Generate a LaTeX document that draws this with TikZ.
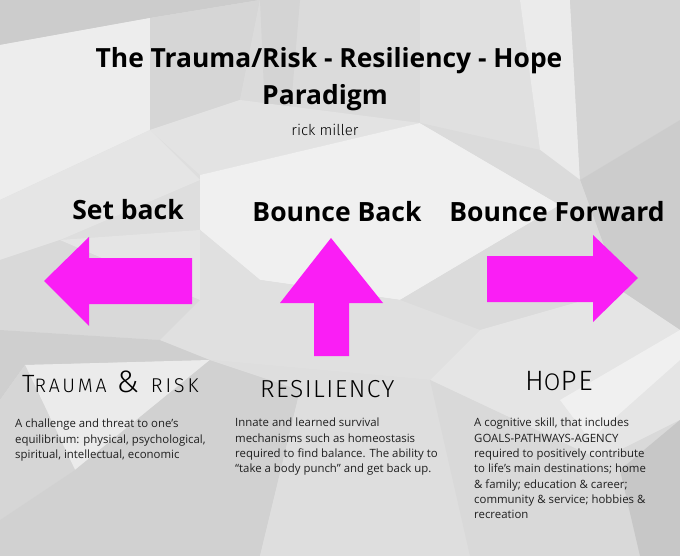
\documentclass[tikz,border=0pt]{standalone}
\usepackage{fontspec}
\setmainfont{Open Sans}
\newfontfamily\hand{Fira Sans Light}
\definecolor{mag}{RGB}{250,30,245}
\tikzset{
  bgp/.style={fill=black!#1, draw=none},
  arrowshape/.style={fill=mag, draw=none},
  ttl/.style={font=\fontsize{26.4}{30}\selectfont\bfseries, inner sep=0, anchor=base},
  head/.style={font=\fontsize{26.5}{32}\selectfont\bfseries, inner sep=0, anchor=base},
  cat/.style={font=\hand, inner sep=0, anchor=base west},
  body/.style={font=\fontsize{11.4}{15.3}\selectfont, inner sep=0, anchor=north west, align=left, text=black!88}
}
\begin{document}
\begin{tikzpicture}[x=1pt,y=-1pt]
\useasboundingbox (0,0) rectangle (680,556);
% background low-poly
\fill[bgp=13] (0,0) rectangle (680,556);
\fill[bgp=20] (0,0) -- (260,0) -- (150,18) -- (0,45) -- cycle;
\fill[bgp=7] (0,45) -- (150,18) -- (150,130) -- (0,200) -- cycle;
\fill[bgp=10] (0,200) -- (150,130) -- (200,180) -- (60,240) -- (0,260) -- cycle;
\fill[bgp=16] (150,18) -- (260,0) -- (240,100) -- (150,130) -- cycle;
\fill[bgp=14] (260,0) -- (420,0) -- (420,123) -- (240,100) -- cycle;
\fill[bgp=17] (260,0) -- (300,0) -- (290,118) -- (265,112) -- cycle;
\fill[bgp=11] (150,130) -- (240,100) -- (420,123) -- (200,175) -- cycle;
\fill[bgp=6] (200,175) -- (420,123) -- (560,205) -- (400,300) -- (260,280) -- (200,230) -- cycle;
\fill[bgp=12] (420,0) -- (520,0) -- (540,150) -- (420,123) -- cycle;
\fill[bgp=8] (520,0) -- (570,0) -- (580,180) -- (540,150) -- cycle;
\fill[bgp=17] (570,0) -- (680,0) -- (680,120) -- (580,180) -- cycle;
\fill[bgp=20] (580,180) -- (680,120) -- (680,330) -- (620,290) -- cycle;
\fill[bgp=14] (540,150) -- (580,180) -- (620,290) -- (480,330) -- (400,300) -- (560,205) -- (420,123) -- cycle;
\fill[bgp=15] (0,260) -- (60,240) -- (200,300) -- (160,340) -- (0,330) -- cycle;
\fill[bgp=10] (60,240) -- (200,230) -- (200,300) -- cycle;
\fill[bgp=19] (0,330) -- (160,340) -- (220,360) -- (25,365) -- (0,400) -- cycle;
\fill[bgp=12] (200,230) -- (260,280) -- (400,300) -- (480,330) -- (430,380) -- (210,360) -- (160,340) -- (200,300) -- cycle;
\fill[bgp=8] (25,365) -- (210,360) -- (75,470) -- cycle;
\fill[bgp=16] (0,400) -- (25,365) -- (75,470) -- (0,520) -- cycle;
\fill[bgp=18] (0,520) -- (75,470) -- (210,360) -- (300,390) -- (260,556) -- (0,556) -- cycle;
\fill[bgp=13] (210,360) -- (430,380) -- (470,556) -- (260,556) -- (300,390) -- cycle;
\fill[bgp=10] (480,330) -- (620,290) -- (680,330) -- (680,420) -- (600,460) -- (430,380) -- cycle;
\fill[bgp=6] (560,400) -- (680,330) -- (680,360) -- (590,440) -- cycle;
\fill[bgp=15] (430,380) -- (600,460) -- (680,420) -- (680,556) -- (470,556) -- cycle;
\fill[bgp=22] (620,470) -- (680,420) -- (680,556) -- (640,556) -- cycle;

% title
\node[ttl] (t1) at (329,68) {The Trauma/Risk - Resiliency - Hope};
\node[ttl] (t2) at (325,105) {Paradigm};
\node[font=\hand\fontsize{15}{17}\selectfont, inner sep=0, anchor=base] (au) at (325,136) {rick miller};

% headings
\node[head] (h1) at (128,220) {Set back};
\node[head] (h2) at (337,222) {Bounce Back};
\node[head] (h3) at (557,222) {Bounce Forward};

% arrows
\fill[arrowshape] (44,281) -- (89,237) -- (89,258) -- (192,258) -- (192,304) -- (89,304) -- (89,326) -- cycle;
\fill[arrowshape] (331,238) -- (383,303) -- (349,303) -- (349,356) -- (314,356) -- (314,303) -- (280,303) -- cycle;
\fill[arrowshape] (638,278) -- (593,235) -- (593,256) -- (487,256) -- (487,302) -- (593,302) -- (593,322) -- cycle;

% category labels
\node[cat] (c1) at (22,392) {\fontsize{25}{28}\selectfont T\fontsize{19.5}{24}\selectfont\addfontfeature{LetterSpace=14}RAUMA\hspace{10pt}\fontsize{31}{30}\selectfont\addfontfeature{LetterSpace=0}\&\hspace{12pt}\fontsize{20}{24}\selectfont\addfontfeature{LetterSpace=14}RISK};
\node[cat] (c2) at (260,397) {\fontsize{24.6}{24}\selectfont\addfontfeature{LetterSpace=6}RESILIENCY};
\node[cat] (c3) at (525,390) {\addfontfeature{LetterSpace=7}\fontsize{28}{24}\selectfont H\fontsize{24}{24}\selectfont O\fontsize{28}{24}\selectfont PE};

% body texts
\node[body] (b1) at (15,419) {A challenge and threat to one’s\\equilibrium: physical, psychological,\\spiritual, intellectual, economic};
\node[body] (b2) at (235,418) {Innate and learned survival\\mechanisms such as homeostasis\\required to find balance. The ability to\\“take a body punch” and get back up.};
\node[body] (b3) at (474,418) {A cognitive skill, that includes\\GOALS-PATHWAYS-AGENCY\\required to positively contribute\\to life’s main destinations; home\\\& family; education \& career;\\community \& service; hobbies \&\\recreation};
\end{tikzpicture}
\end{document}
